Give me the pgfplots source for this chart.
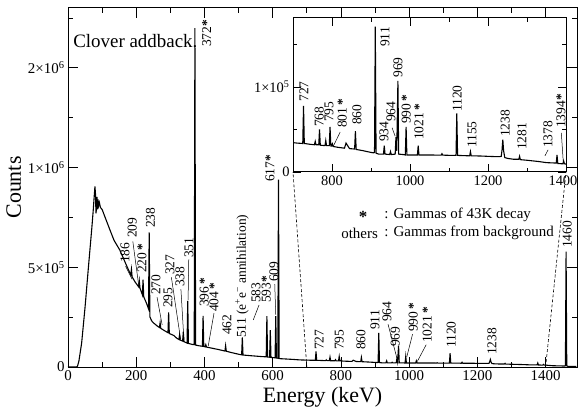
\documentclass[border=0pt]{standalone}
\usepackage{fontspec}
\setmainfont{Liberation Serif}
\usepackage{pgfplots}
\pgfplotsset{compat=1.18}
\usepackage{pgfplotstable}

\newcommand{\lab}{\fontsize{13.5}{14}\selectfont}
\newcommand{\st}{\textbf{*}}
\newcommand{\pk}[3]{\node[rotate=90,anchor=west,inner sep=0pt,font=\lab] at (axis cs:#1,#2) {#3};}

% spectrum, energy (keV) vs counts
\pgfplotstableread{
E C
0 0
25 0
28 5000
32 30000
40 120000
50 300000
60 503000
70 700000
74 787000
77 860000
79 905000
80.5 870000
82 770000
84 800000
85 853000
86.5 790000
88 840000
90 810000
92 825000
95 800000
100 790000
110 745000
123 687000
135 635000
152 586000
171 511000
184 462000
186 490000
188 452000
196 428000
207 402000
209 432000
211 396000
218 362000
220 438000
222 352000
230 320000
236 292000
238 675000
240 252000
245 232000
250 222000
262 205000
268 198000
270 222000
272 194000
280 185000
293 172000
295 274000
297 168000
310 158000
319 144000
325 138000
327 160000
329 135000
336 130000
338 177000
340 127000
349 120000
351 331000
353 118000
365 113000
370 112000
372 1699000
374 110000
385 106000
394 104000
396 256000
398 103000
402 101000
404 112000
406 100000
420 95000
440 88000
460 80000
462 107000
464 79000
480 72000
500 64000
509 61000
511 149000
513 60000
540 56000
570 52000
581 51000
583 255000
585 50000
591 49000
593 185000
595 48000
607 46000
609 255000
611 45000
615 44000
617 940000
619 42000
640 40000
660 38000
680 35500
700 34500
710 34000
725 33500
727 77600
729 33500
745 32500
755 32000
757 36000
759 32000
766 32000
768 50000
770 31500
782 31000
784 37000
786 31000
793 31000
795 53000
797 30500
799 30500
801 33000
803 30000
815 29000
832 28000
836 34000
840 31000
845 27500
858 27000
860 48000
862 26500
880 25000
900 23000
907 22500
909 23000
911 171000
913 22000
920 21000
932 21000
934 31000
936 21000
948 20500
950 24000
952 20500
962 21000
964 41000
966 25000
969 107000
971 21000
983 20500
988 20000
990 53000
992 20000
1000 20000
1019 20000
1021 31000
1023 20000
1050 20000
1080 19800
1082 21500
1084 19800
1100 19600
1118 19500
1120 69000
1122 19500
1153 19000
1155 24000
1157 19000
1180 18800
1210 18200
1230 18000
1234 18500
1236 26000
1238 38000
1240 25000
1243 17000
1250 16000
1265 15000
1279 15000
1281 18500
1283 14500
1300 13800
1330 12300
1350 11000
1375 10500
1377 20000
1379 10000
1385 9800
1392 9600
1394 13000
1396 9500
1400 9400
1420 6500
1440 5500
1456 5000
1458 6000
1460 578000
1462 6000
1465 3500
1490 3000
}\spec

\begin{document}
\begin{tikzpicture}
\begin{axis}[
    name=main,
    width=509bp, height=359bp, scale only axis,
    xmin=0, xmax=1492, ymin=0, ymax=1.8e6,
    xtick={0,200,...,1400},
    minor xtick={100,300,...,1300},
    ytick={0,5e5,1e6,1.5e6},
    yticklabels={0,5×10\textsuperscript{5},1×10\textsuperscript{6},2×10\textsuperscript{6}},
    minor ytick={2.5e5,7.5e5,1.25e6,1.75e6},
    scaled y ticks=false,
    major tick length=10bp, minor tick length=5bp,
    tick style={black, line width=0.8pt},
    axis line style={line width=1pt},
    /pgf/number format/assume math mode=true,
    /pgf/number format/1000 sep={},
    tick label style={font=\fontsize{15}{15}\selectfont},
    xlabel={Energy (keV)}, ylabel={Counts},
    label style={font=\fontsize{22}{22}\selectfont},
    clip mode=individual,
]
\addplot[black, line width=1.1pt, mark=none] table[x=E, y=C] {\spec};

\coordinate (a) at (axis cs:700,0);
\coordinate (b) at (axis cs:1400,0);

\node[anchor=base west, inner sep=0pt, font=\fontsize{19}{19}\selectfont] at (axis cs:15,1.604e6) {Clover addback.};

\pk{167}{521e3}{186}
\draw[line width=0.5pt] (axis cs:169,505e3) -- (axis cs:188,440e3);
\pk{188}{646e3}{209}
\draw[line width=0.5pt] (axis cs:190,630e3) -- (axis cs:208,400e3);
\pk{217}{471e3}{220\,\st}
\pk{242}{697e3}{238}
\pk{258}{361e3}{270}
\draw[line width=0.5pt] (axis cs:261,350e3) -- (axis cs:276,211e3);
\pk{293}{296e3}{295}
\pk{299}{461e3}{327}
\draw[line width=0.5pt] (axis cs:303,450e3) -- (axis cs:330,140e3);
\pk{328}{401e3}{338}
\draw[line width=0.5pt] (axis cs:331,390e3) -- (axis cs:340,130e3);
\pk{355}{546e3}{351}
\draw[line width=0.5pt] (axis cs:354,540e3) -- (axis cs:352,335e3);
\pk{407}{1604e3}{372\st}
\pk{399}{301e3}{396\,\st}
\pk{428}{276e3}{404\,\st}
\draw[line width=0.5pt] (axis cs:428,270e3) -- (axis cs:411,105e3);
\pk{466}{160e3}{462}
\pk{510}{145e3}{511 (e\textsuperscript{+}e\textsuperscript{−} annihilation)}
\pk{551}{321e3}{583}
\draw[line width=0.5pt] (axis cs:560,311e3) -- (axis cs:543,236e3);
\pk{581}{321e3}{593\st}
\pk{604}{426e3}{609}
\draw[line width=0.5pt] (axis cs:606,416e3) -- (axis cs:609,262e3);
\pk{592}{927e3}{617\st}
\pk{736}{85e3}{727}
\pk{795}{85e3}{795}
\pk{859}{85e3}{860}
\pk{900}{185e3}{911}
\pk{935}{226e3}{964}
\draw[line width=0.5pt] (axis cs:938,215e3) -- (axis cs:964,45e3);
\pk{959}{100e3}{969}
\pk{1012}{175e3}{990\,\st}
\draw[line width=0.5pt] (axis cs:1010,165e3) -- (axis cs:993,50e3);
\pk{1053}{120e3}{1021\,\st}
\draw[line width=0.5pt] (axis cs:1050,112e3) -- (axis cs:1024,28e3);
\pk{1123}{95e3}{1120}
\pk{1243}{60e3}{1238}
\pk{1463}{596e3}{1460}

\node[font=\fontsize{17}{17}\selectfont, inner sep=0pt] at (axis cs:865,755e3) {\st};
\node[anchor=west, inner sep=0pt, font=\fontsize{15}{15}\selectfont] at (axis cs:927,762e3) {: Gammas of 43K decay};
\node[anchor=east, inner sep=0pt, font=\fontsize{15}{15}\selectfont] at (axis cs:927,672e3) {others\ \,};
\node[anchor=west, inner sep=0pt, font=\fontsize{15}{15}\selectfont] at (axis cs:927,672e3) {: Gammas from background};
\end{axis}

\begin{axis}[
    name=ins,
    at={(225bp,195bp)}, anchor=south west,
    width=273bp, height=154bp, scale only axis,
    axis background/.style={fill=white},
    xmin=700, xmax=1400, ymin=0, ymax=1.81e5,
    xtick={800,1000,1200,1400},
    xticklabels={800,1000,1200,1400\kern6bp},
    minor xtick={900,1100,1300},
    ytick={0,1e5},
    yticklabels={0,1×10\textsuperscript{5}},
    minor ytick={5e4,1.5e5},
    scaled y ticks=false,
    major tick length=8bp, minor tick length=4bp,
    tick style={black, line width=0.8pt},
    axis line style={line width=1pt},
    /pgf/number format/assume math mode=true,
    /pgf/number format/1000 sep={},
    tick label style={font=\fontsize{14.5}{14.5}\selectfont},
    clip mode=individual,
]
\addplot[black, line width=1.1pt, mark=none] table[x=E, y=C] {\spec};

\pk{728}{82.4e3}{727}
\pk{767}{52.9e3}{768}
\pk{792}{58.8e3}{795}
\pk{826}{51.8e3}{801\,\st}
\draw[line width=0.5pt] (axis cs:821,47e3) -- (axis cs:803,30e3);
\pk{864}{55.3e3}{860}
\pk{936}{147e3}{911}
\pk{933}{35.3e3}{934}
\pk{951}{58.8e3}{964}
\draw[line width=0.5pt] (axis cs:954,52e3) -- (axis cs:962,42e3);
\pk{969}{110.6e3}{969}
\pk{990}{56.5e3}{990\,\st}
\pk{1023}{37.6e3}{1021\,\st}
\pk{1121}{70.6e3}{1120}
\pk{1159}{28.2e3}{1155}
\pk{1244}{41.2e3}{1238}
\pk{1287}{25.9e3}{1281}
\pk{1354}{28.2e3}{1378}
\draw[line width=0.5pt] (axis cs:1354,26e3) -- (axis cs:1346,19e3);
\pk{1387}{51.8e3}{1394\st}
\draw[line width=0.5pt] (axis cs:1388,46e3) -- (axis cs:1393,12e3);
\end{axis}

\draw[dashed, dash pattern=on 3bp off 2bp, line width=0.6pt] (a) -- (ins.south west);
\draw[dashed, dash pattern=on 3bp off 2bp, line width=0.6pt] (b) -- (ins.south east);

\pgfresetboundingbox
\path (-68bp,-45bp) rectangle (510bp,367bp);
\end{tikzpicture}
\end{document}
